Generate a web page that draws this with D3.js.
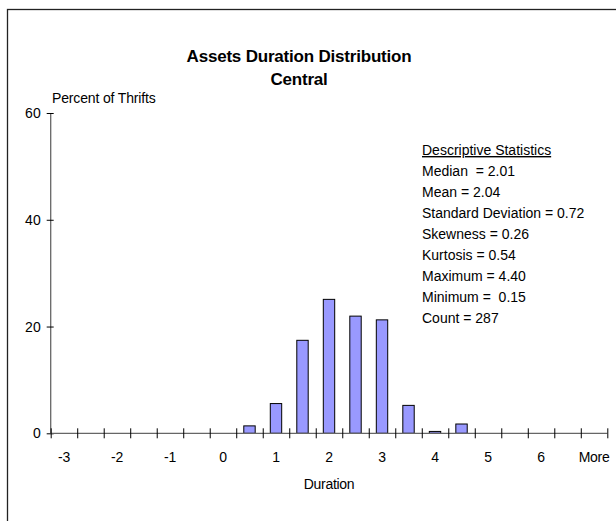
<!DOCTYPE html>
<html><head><meta charset="utf-8">
<script src="https://cdn.jsdelivr.net/npm/d3@7/dist/d3.min.js"></script>
<style>
html,body{margin:0;padding:0;background:#fff;}
svg{display:block;font-family:"Liberation Sans",Arial,sans-serif;}
</style></head>
<body>
<script>
const categories = ["-3","-2.5","-2","-1.5","-1","-0.5","0","0.5","1","1.5","2","2.5","3","3.5","4","4.5","5","5.5","6","6.5","More"];
const percentValues = [0,0,0,0,0,0,0,1.39,5.57,17.42,25.09,21.95,21.25,5.23,0.35,1.74,0,0,0,0,0];
const xTickLabels = ["-3","","-2","","-1","","0","","1","","2","","3","","4","","5","","6","","More"];
const yTicks = [0,20,40,60];
const titleLines = ["Assets Duration Distribution","Central"];
const statsTitle = "Descriptive Statistics";
const statsLines = ["Median  = 2.01","Mean = 2.04","Standard Deviation = 0.72","Skewness = 0.26","Kurtosis = 0.54","Maximum = 4.40","Minimum =  0.15","Count = 287"];

const W = 616, H = 521;
const svg = d3.select("body").append("svg").attr("width", W).attr("height", H);

// outer frame (extends beyond viewport right/bottom)
svg.append("rect").attr("x", 7.5).attr("y", 9.5).attr("width", 700).attr("height", 600)
  .attr("fill", "none").attr("stroke", "#222").attr("stroke-width", 1.3);

const x0 = 50.7, x1 = 607.3, y0 = 433.3, yTop = 113;
const x = d3.scaleBand().domain(categories).range([x0, x1]).paddingInner(0.57).paddingOuter(0.285);
const xb = d3.scaleLinear().domain([0, categories.length]).range([x0, x1]);
const y = d3.scaleLinear().domain([0, 60]).range([y0, yTop]);

// title
svg.append("g").selectAll("text").data(titleLines).join("text")
  .attr("x", 299).attr("y", (d,i) => 62 + i*23)
  .attr("text-anchor", "middle").attr("font-size", 17).attr("font-weight", "bold")
  .attr("letter-spacing", -0.2).attr("fill", "#000").text(d => d);

// y axis title
svg.append("text").attr("x", 52).attr("y", 103).attr("font-size", 14)
  .attr("letter-spacing", -0.15).attr("fill", "#000").text("Percent of Thrifts");

// bars
svg.append("g").selectAll("rect").data(categories.map((c,i)=>({c, v: percentValues[i]})).filter(d => d.v > 0))
  .join("rect")
  .attr("x", d => x(d.c)).attr("width", x.bandwidth())
  .attr("y", d => y(d.v)).attr("height", d => y0 - y(d.v))
  .attr("fill", "#9999FF").attr("stroke", "#000").attr("stroke-width", 1);

// y axis
const yAxis = svg.append("g").attr("transform", `translate(${x0},0)`)
  .call(d3.axisLeft(y).tickValues(yTicks).tickSize(4).tickPadding(6).tickFormat(d3.format("d")));
yAxis.select(".domain").attr("stroke", "#666").attr("stroke-width", 1.3).attr("d", `M0,${yTop}V${y0}`);
yAxis.selectAll(".tick line").attr("x1", 3).attr("stroke", "#000");
yAxis.selectAll(".tick text").attr("font-size", 14).attr("font-family", "Liberation Sans, Arial, sans-serif").attr("fill", "#000");

// x axis: boundary ticks
const xAxis = svg.append("g").attr("transform", `translate(0,${y0})`)
  .call(d3.axisBottom(xb).tickValues(d3.range(categories.length + 1)).tickSize(5).tickFormat(""));
xAxis.select(".domain").attr("stroke", "#666").attr("stroke-width", 1.3).attr("d", `M${x0},0H${x1}`);
xAxis.selectAll(".tick line").attr("y1", -5).attr("stroke", "#000");

// x category labels
const xLab = svg.append("g").attr("transform", `translate(0,${y0})`)
  .call(d3.axisBottom(x).tickSize(0).tickPadding(19).tickFormat((d,i) => xTickLabels[i]));
xLab.select(".domain").remove();
xLab.selectAll(".tick text").attr("font-size", 14).attr("font-family", "Liberation Sans, Arial, sans-serif")
  .attr("letter-spacing", -0.3).attr("fill", "#000");

// x axis title
svg.append("text").attr("x", (x0 + x1)/2).attr("y", 489).attr("text-anchor", "middle")
  .attr("font-size", 14).attr("letter-spacing", -0.3).attr("fill", "#000").text("Duration");

// stats box
const st = svg.append("g").attr("transform", "translate(422,155)").attr("font-size", 14).attr("fill", "#000");
st.append("text").attr("x", 0).attr("y", 0).attr("text-decoration", "underline").text(statsTitle);
st.selectAll("text.s").data(statsLines).join("text").attr("class", "s")
  .attr("x", 0).attr("y", (d,i) => (i+1)*21)
  .style("white-space", "pre").text(d => d);
</script>
</body></html>
